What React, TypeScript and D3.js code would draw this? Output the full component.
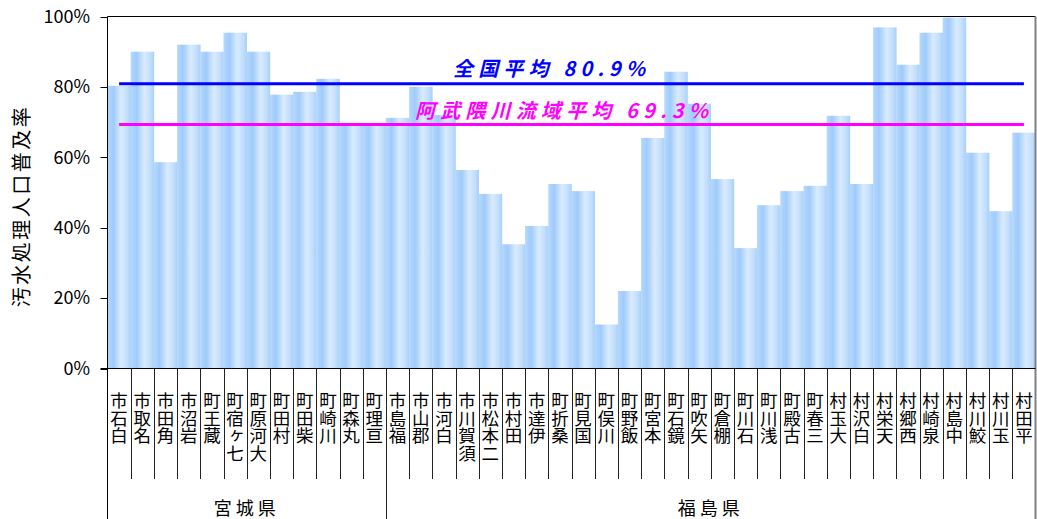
import React from "react";
import * as d3 from "d3";

const prefMiyagi = "宮城県";
const prefFukushima = "福島県";
const miyagiCities = ["白石市","名取市","角田市","岩沼市","蔵王町","七ヶ宿町","大河原町","村田町","柴田町","川崎町","丸森町","亘理町"];
const fukushimaCities = ["福島市","郡山市","白河市","須賀川市","二本松市","田村市","伊達市","桑折町","国見町","川俣町","飯野町","本宮町","鏡石町","矢吹町","棚倉町","石川町","浅川町","古殿町","三春町","大玉村","白沢村","天栄村","西郷村","泉崎村","中島村","鮫川村","玉川村","平田村"];
const miyagiValues = [80.3,90.0,58.6,92.0,90.0,95.4,90.0,77.8,78.6,82.3,69.1,69.5];
const fukushimaValues = [71.2,80.0,72.0,56.4,49.6,35.3,40.5,52.4,50.4,12.5,22.0,65.5,84.3,75.2,53.8,34.2,46.4,50.4,51.9,71.8,52.4,96.9,86.3,95.4,99.7,61.3,44.7,67.0];
const nationalAvg = 80.9;
const basinAvg = 69.3;
const nationalLabel = "全国平均 80.9%";
const basinLabel = "阿武隈川流域平均 69.3%";
const yTicks = [0,20,40,60,80,100];
const yTitle = "汚水処理人口普及率";

const W = 1037, H = 519;
const L = 107.5, R = 1035.5, T = 16.5, B = 368.5;
const font = "'Noto Sans CJK JP', 'Noto Sans', sans-serif";

export default function App() {
  const cats = [...miyagiCities, ...fukushimaCities];
  const vals = [...miyagiValues, ...fukushimaValues];
  const x = d3.scaleBand<string>().domain(cats).range([L, R]).padding(0);
  const y = d3.scaleLinear().domain([0, 100]).range([B, T]);
  const bw = x.bandwidth();
  const xFirst = x(cats[0])! + bw / 2;
  const xLast = x(cats[cats.length - 1])! + bw / 2;
  const groupBoundary = x(fukushimaCities[0])!;
  const labelTop = 392;

  return (
    <svg width={W} height={H} style={{ position: "absolute", left: 0, top: 0, background: "#fff" }} fontFamily={font}>
      <defs>
        <linearGradient id="barGrad" x1="0" x2="1" y1="0" y2="0">
          <stop offset="0" stopColor="#b6d8fc" />
          <stop offset="0.25" stopColor="#9fcbfb" />
          <stop offset="0.58" stopColor="#d9ebfd" />
          <stop offset="0.82" stopColor="#c3dffc" />
          <stop offset="1" stopColor="#a8d0fb" />
        </linearGradient>
      </defs>
      {cats.map((c, i) => (
        <rect key={c} x={x(c)!} y={y(vals[i])} width={bw + 0.3} height={B - y(vals[i])} fill="url(#barGrad)" />
      ))}
      <line x1={L} x2={R} y1={T} y2={T} stroke="#000" strokeWidth={1} />
      <line x1={R} x2={R} y1={T} y2={H} stroke="#808080" strokeWidth={2} />
      <line x1={L} x2={L} y1={T} y2={H} stroke="#000" strokeWidth={1} />
      <line x1={L - 7} x2={R} y1={B} y2={B} stroke="#000" strokeWidth={1} />
      {yTicks.map(t => (
        <g key={t}>
          <line x1={L - 7} x2={L} y1={Math.round(y(t)) + 0.5} y2={Math.round(y(t)) + 0.5} stroke="#000" />
          <text x={90} y={y(t)} dy="0.35em" textAnchor="end" fontSize={18} fill="#000">{t}%</text>
        </g>
      ))}
      <text transform={`translate(22,206) rotate(-90)`} textAnchor="middle" dy="0.35em" fontSize={20} letterSpacing={2.5} fill="#000">{yTitle}</text>
      {cats.slice(1).map(c => {
        const xx = Math.round(x(c)!) + 0.5;
        const full = c === fukushimaCities[0];
        return <line key={"s" + c} x1={xx} x2={xx} y1={B} y2={full ? H : 479} stroke="#222" strokeWidth={1} />;
      })}
      {/* category labels: upright glyphs, reading bottom-to-top */}
      {cats.map(c => (
        <text key={"l" + c} x={x(c)! + bw / 2} y={labelTop} textAnchor="end" fontSize={17.5} fill="#000"
          style={{ writingMode: "vertical-rl", textOrientation: "upright", direction: "rtl", unicodeBidi: "bidi-override" } as any}>
          {c}
        </text>
      ))}
      <text x={(L + groupBoundary) / 2} y={515} textAnchor="middle" fontSize={18} letterSpacing={4} fill="#000">{prefMiyagi}</text>
      <text x={(groupBoundary + R) / 2} y={515} textAnchor="middle" fontSize={18} letterSpacing={4} fill="#000">{prefFukushima}</text>
      <line x1={xFirst} x2={xLast} y1={y(nationalAvg)} y2={y(nationalAvg)} stroke="#0000ff" strokeWidth={3} />
      <line x1={xFirst} x2={xLast} y1={y(basinAvg)} y2={y(basinAvg)} stroke="#ff00ff" strokeWidth={3} />
      <text x={453} y={76} fontSize={20} fontWeight="bold" fontStyle="italic" fill="#0000ff" textLength={192} lengthAdjust="spacing">{nationalLabel}</text>
      <text x={415} y={118} fontSize={20} fontWeight="bold" fontStyle="italic" fill="#ff00ff" textLength={293} lengthAdjust="spacing">{basinLabel}</text>
    </svg>
  );
}
